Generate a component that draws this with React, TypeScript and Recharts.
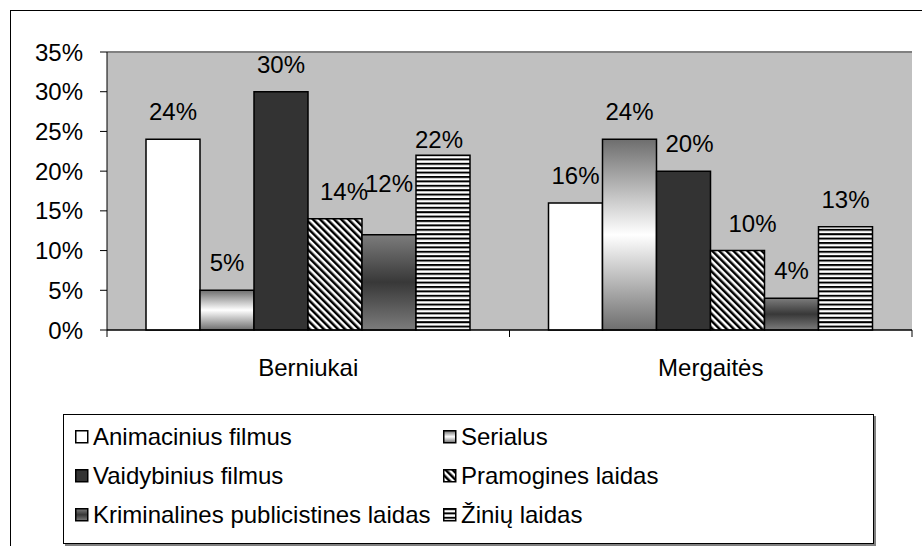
import React from "react";
import { BarChart, Bar, XAxis, YAxis, CartesianGrid, ReferenceLine, Legend } from "recharts";

const categories = ["Berniukai", "Mergaitės"];
const animacinius = [24, 16];
const serialus = [5, 24];
const vaidybinius = [30, 20];
const pramogines = [14, 10];
const kriminalines = [12, 4];
const ziniu = [22, 13];
const yTicks = [0, 5, 10, 15, 20, 25, 30, 35];

const seriesNames = {
  animacinius: "Animacinius filmus",
  serialus: "Serialus",
  vaidybinius: "Vaidybinius filmus",
  pramogines: "Pramogines laidas",
  kriminalines: "Kriminalines publicistines laidas",
  ziniu: "Žinių laidas",
};

const data = categories.map((c, i) => ({
  category: c,
  animacinius: animacinius[i],
  serialus: serialus[i],
  vaidybinius: vaidybinius[i],
  pramogines: pramogines[i],
  kriminalines: kriminalines[i],
  ziniu: ziniu[i],
}));

const FONT = "'Liberation Sans', Arial, sans-serif";

const fills: Record<string, string> = {
  animacinius: "#ffffff",
  serialus: "url(#gSerialus)",
  vaidybinius: "#333333",
  pramogines: "url(#pDiag)",
  kriminalines: "url(#gKrim)",
  ziniu: "url(#pHoriz)",
};

const seriesKeys = ["animacinius", "serialus", "vaidybinius", "pramogines", "kriminalines", "ziniu"];

// manual label nudges (dx, dy) like in the original
const LABEL_NUDGE: Record<string, [number, number]> = {
  "pramogines-0": [9, 0],
  "kriminalines-0": [0, -24],
  "ziniu-0": [-4, 12],
  "vaidybinius-1": [6, 0],
  "pramogines-1": [15, 0],
};

const makeLabel = (key: string) => (props: any) => {
  const { x, y, width, value, index } = props;
  const n = LABEL_NUDGE[`${key}-${index}`] || [0, 0];
  return (
    <text
      x={Number(x) + Number(width) / 2 + n[0]}
      y={Number(y) - 19 + n[1]}
      textAnchor="middle"
      fontSize={24}
      fontFamily={FONT}
      fill="#000"
    >
      {value}%
    </text>
  );
};

const CategoryTick = (props: any) => {
  const { x, y, payload, index, visibleTicksCount } = props;
  const half = payload && payload.offset ? payload.offset : 201;
  const last = index === (visibleTicksCount ?? 2) - 1;
  return (
    <g>
      <line x1={x - half} x2={x - half} y1={y - 7} y2={y} stroke="#000" strokeWidth={1} />
      {last && <line x1={x + half} x2={x + half} y1={y - 7} y2={y} stroke="#000" strokeWidth={1} />}
      <text x={x} y={y + 39} textAnchor="middle" fontSize={24} fontFamily={FONT} fill="#000">
        {payload.value}
      </text>
    </g>
  );
};

const legendRows = [
  ["animacinius", "serialus"],
  ["vaidybinius", "pramogines"],
  ["kriminalines", "ziniu"],
];

const LegendContent = () => (
  <div
    style={{
      width: 811,
      height: 130,
      boxSizing: "border-box",
      border: "1.5px solid #000",
      boxShadow: "2px 2px 0 #808080",
      background: "#fff",
      position: "relative",
      fontFamily: FONT,
      fontSize: 24,
      color: "#000",
    }}
  >
    {legendRows.map((row, r) =>
      row.map((key, c) => (
        <div
          key={key}
          style={{
            position: "absolute",
            left: c === 0 ? 11 : 379,
            top: 7 + r * 39,
            height: 30,
            display: "flex",
            alignItems: "center",
            whiteSpace: "nowrap",
          }}
        >
          <svg width={14} height={14} style={{ marginRight: 4 }}>
            <rect x={0.75} y={0.75} width={12} height={12} fill={fills[key]} stroke="#000" strokeWidth={1.5} />
          </svg>
          <span>{(seriesNames as any)[key]}</span>
        </div>
      ))
    )}
  </div>
);

export default function App() {
  return (
    <div
      style={{
        position: "absolute",
        left: 0,
        top: 0,
        width: 922,
        height: 546,
        overflow: "hidden",
        background: "#fff",
      }}
    >
      <div
        style={{
          position: "absolute",
          left: 10,
          top: 10,
          width: 960,
          height: 600,
          border: "1.5px solid #000",
        }}
      />
      <BarChart
        width={922}
        height={546}
        data={data}
        margin={{ top: 52, right: 10, left: 0, bottom: 26 }}
        barCategoryGap={39}
        barGap={0}
      >
        <defs>
          <linearGradient id="gSerialus" x1="0" y1="0" x2="0" y2="1">
            <stop offset="0" stopColor="#6e6e6e" />
            <stop offset="0.5" stopColor="#ffffff" />
            <stop offset="1" stopColor="#6e6e6e" />
          </linearGradient>
          <linearGradient id="gKrim" x1="0" y1="0" x2="0" y2="1">
            <stop offset="0" stopColor="#7c7c7c" />
            <stop offset="0.5" stopColor="#383838" />
            <stop offset="1" stopColor="#7c7c7c" />
          </linearGradient>
          <pattern id="pDiag" width="5" height="5" patternUnits="userSpaceOnUse" patternTransform="rotate(-45)">
            <rect x="0" y="0" width="5" height="5" fill="#fff" />
            <rect x="0" y="0" width="2.5" height="5" fill="#000" />
          </pattern>
          <pattern id="pHoriz" width="4" height="4.4" patternUnits="userSpaceOnUse">
            <rect x="0" y="0" width="4" height="4.4" fill="#fff" />
            <rect x="0" y="0" width="4" height="2" fill="#000" />
          </pattern>
        </defs>
        <CartesianGrid vertical={false} stroke="#000" strokeWidth={1} fill="#C0C0C0" fillOpacity={1} />
        <XAxis
          dataKey="category"
          height={60}
          axisLine={{ stroke: "#000", strokeWidth: 1 }}
          tickLine={false}
          tickSize={7}
          tickMargin={0}
          tick={<CategoryTick />}
          interval={0}
        />
        <YAxis
          yAxisId="left"
          width={107}
          domain={[0, 35]}
          ticks={yTicks}
          interval={0}
          tickFormatter={(v: number) => `${v}%`}
          axisLine={{ stroke: "#000", strokeWidth: 1 }}
          tickLine={{ stroke: "#000", strokeWidth: 1 }}
          tickSize={7}
          tickMargin={17}
          tick={{ fontSize: 24, fill: "#000", fontFamily: FONT }}
        />
        <YAxis
          yAxisId="right"
          orientation="right"
          width={0}
          domain={[0, 35]}
          ticks={yTicks}
          axisLine={{ stroke: "#808080", strokeWidth: 2 }}
          tick={false}
          tickLine={false}
        />
        <ReferenceLine yAxisId="left" y={35} stroke="#808080" strokeWidth={2} />
        {seriesKeys.map((k) => (
          <Bar
            key={k}
            yAxisId="left"
            dataKey={k}
            name={(seriesNames as any)[k]}
            fill={fills[k]}
            stroke="#000"
            strokeWidth={1.5}
            isAnimationActive={false}
            label={makeLabel(k)}
          />
        ))}
        <Legend
          layout="vertical"
          align="center"
          verticalAlign="bottom"
          content={<LegendContent />}
          wrapperStyle={{ position: "absolute", left: 63, top: 414, bottom: "auto", width: 811, height: 130 }}
        />
      </BarChart>
    </div>
  );
}
